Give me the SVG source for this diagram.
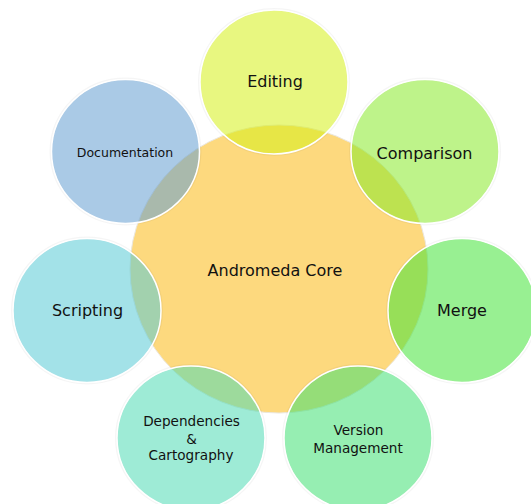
<svg xmlns="http://www.w3.org/2000/svg" width="531" height="504" viewBox="0 0 531 504">
<style>
.bg{fill:#ffffff}
.core{fill:#FDD97E;stroke:#ebe7dd;stroke-width:1}
.sat{fill-opacity:0.55;stroke:#ffffff;stroke-width:1.5}
.halo{fill:none;stroke:#000000;stroke-opacity:0.04;stroke-width:3}
text{font-family:"DejaVu Sans","Verdana",sans-serif;fill:#111111;text-anchor:middle}
.l{font-size:16px}
.s{font-size:13.6px}
.d{font-size:12.5px}
</style>
<rect class="bg" x="0" y="0" width="531" height="504"/>
<g id="connectors"/>
<g id="core">
<ellipse class="core" cx="279" cy="269" rx="149" ry="144"/>
<text class="l" x="275" y="276">Andromeda Core</text>
</g>
<g id="editing">
<ellipse class="halo" cx="274" cy="82" rx="74.5" ry="72.5"/>
<ellipse class="sat" style="fill:#D5F018" cx="274" cy="82" rx="74" ry="72"/>
<text class="l" x="275" y="87">Editing</text>
</g>
<g id="documentation">
<ellipse class="halo" cx="125.5" cy="151.5" rx="74.5" ry="72.5"/>
<ellipse class="sat" style="fill:#649FD1" cx="125.5" cy="151.5" rx="74" ry="72"/>
<text class="d" x="125" y="157">Documentation</text>
</g>
<g id="comparison">
<ellipse class="halo" cx="425" cy="151.5" rx="74.5" ry="72.5"/>
<ellipse class="sat" style="fill:#89E92A" cx="425" cy="151.5" rx="74" ry="72"/>
<text class="l" x="424.5" y="158.5">Comparison</text>
</g>
<g id="scripting">
<ellipse class="halo" cx="87" cy="310.5" rx="74.5" ry="72.5"/>
<ellipse class="sat" style="fill:#58CAD5" cx="87" cy="310.5" rx="74" ry="72"/>
<text class="l" x="87.5" y="316">Scripting</text>
</g>
<g id="merge">
<ellipse class="halo" cx="462" cy="310.5" rx="74.5" ry="72.5"/>
<ellipse class="sat" style="fill:#44E439" cx="462" cy="310.5" rx="74" ry="72"/>
<text class="l" x="462" y="316">Merge</text>
</g>
<g id="dependencies">
<ellipse class="halo" cx="191" cy="438" rx="74.5" ry="72.5"/>
<ellipse class="sat" style="fill:#4FDBB4" cx="191" cy="438" rx="74" ry="72"/>
<text class="s" x="191.5" y="425.5">Dependencies</text>
<text class="s" x="191.5" y="443.5">&amp;</text>
<text class="s" x="191" y="460">Cartography</text>
</g>
<g id="version">
<ellipse class="halo" cx="358" cy="438" rx="74.5" ry="72.5"/>
<ellipse class="sat" style="fill:#40E073" cx="358" cy="438" rx="74" ry="72"/>
<text class="s" x="358.5" y="435">Version</text>
<text class="s" x="358" y="452.5">Management</text>
</g>
</svg>
